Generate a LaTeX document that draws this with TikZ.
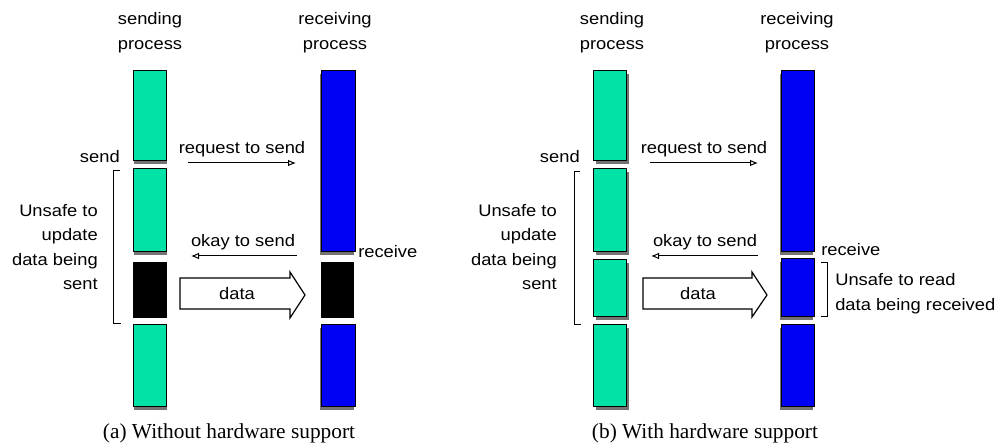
\documentclass[tikz,border=0pt]{standalone}
\usepackage{fontspec}
\setmainfont{Liberation Serif}
\setsansfont{Liberation Sans}
\usetikzlibrary{arrows.meta,fit,shadows}
\definecolor{sendgreen}{RGB}{0,226,166}
\definecolor{recvblue}{RGB}{0,0,245}
\definecolor{shadowgray}{RGB}{115,115,115}
% slightly widened sans labels
\newcommand\wsx[1]{\scalebox{1.1}[1]{#1}}
\newcommand\wrows[2]{\wsx{\begin{tabular}{@{}#1@{}}#2\end{tabular}}}

\begin{document}
\begin{tikzpicture}[x=0.75pt,y=-0.75pt,
  seg/.style={draw=black, line width=0.75pt, inner sep=0pt, outer sep=0pt},
  shdR/.style={drop shadow={shadow xshift=0.6pt, shadow yshift=-2.6pt, fill=shadowgray, opacity=1}},
  shdRR/.style={drop shadow={shadow xshift=2pt, shadow yshift=-2.6pt, fill=shadowgray, opacity=1}},
  shdL/.style={drop shadow={shadow xshift=-0.9pt, shadow yshift=-2.6pt, fill=shadowgray, opacity=1}},
  shdLL/.style={drop shadow={shadow xshift=-0.6pt, shadow yshift=-2.6pt, fill=shadowgray, opacity=1}},
  lbl/.style={font=\sffamily\fontsize{12.5}{18.3}\selectfont, inner sep=0pt},
  captext/.style={font=\fontsize{16}{19}\selectfont, inner sep=0pt},
  msg/.style={line width=0.75pt, -{Latex[open,length=6pt,width=5pt]}},
  brk/.style={line width=0.75pt},
  blockarrow/.style={draw=black, fill=white, line width=0.9pt, line join=miter}
]
\useasboundingbox (0,0) rectangle (997,448);

% ---------------- (a) without hardware support ----------------
\node[lbl] (hsA) at (150,32) {\wrows{c}{sending\\process}};
\node[lbl] (hrA) at (335,32) {\wrows{c}{receiving\\process}};

% sending process timeline
\node[seg, fill=sendgreen, shdR, fit={(133,71) (166,161)}] (a1) {};
\node[seg, fill=sendgreen, shdR, fit={(133,169) (166,252)}] (a2) {};
\node[seg, fill=black, fit={(133,263) (166,318)}] (a3) {};
\node[seg, fill=sendgreen, shdR, fit={(133,325) (166,407)}] (a4) {};

% receiving process timeline
\node[seg, fill=recvblue, shdL, fit={(321,71) (355,252)}] (b1) {};
\node[seg, fill=black, fit={(321,263) (353,318)}] (b2) {};
\node[seg, fill=recvblue, shdL, fit={(321,325) (355,407)}] (b3) {};

\node[lbl, anchor=east] (sendA) at (120,157) {\wsx{send}};
\node[lbl, anchor=west] (recvA) at (358,252) {\wsx{receive}};

% messages
\coordinate (reqAs) at (188,163);
\coordinate (reqAe) at (296,163);
\draw[msg] (reqAs) -- (reqAe);
\node[lbl] (reqAt) at (242,149) {\wsx{request to send}};

\coordinate (okAs) at (297,256);
\coordinate (okAe) at (191,256);
\draw[msg] (okAs) -- (okAe);
\node[lbl] (okAt) at (243,242) {\wsx{okay to send}};

% data transfer
\draw[blockarrow] (180,278) -- (290,278) -- (290,272) -- (305,295) -- (290,318) -- (290,309) -- (180,309) -- cycle;
\node[lbl] (dataA) at (237,294) {\wsx{data}};

% unsafe interval on the sender
\coordinate (bkAt) at (120,171);
\coordinate (bkAb) at (121,324);
\draw[brk] (bkAt) -- (113,171) -- (113,324) -- (bkAb);
\node[lbl, anchor=east] (unsA) at (98,248) {\wrows{r}{Unsafe to\\update\\data being\\sent}};

\node[captext] (capA) at (229,433) {(a) Without hardware support};

% ---------------- (b) with hardware support ----------------
\node[lbl] (hsB) at (612,32) {\wrows{c}{sending\\process}};
\node[lbl] (hrB) at (797,32) {\wrows{c}{receiving\\process}};

\node[seg, fill=sendgreen, shdRR, fit={(593,71) (626,161)}] (c1) {};
\node[seg, fill=sendgreen, shdRR, fit={(593,169) (626,252)}] (c2) {};
\node[seg, fill=sendgreen, shdRR, fit={(593,260) (626,317)}] (c3) {};
\node[seg, fill=sendgreen, shdRR, fit={(593,325) (626,407)}] (c4) {};

\node[seg, fill=recvblue, shdLL, fit={(781,71) (814,252)}] (d1) {};
\node[seg, fill=recvblue, shdLL, fit={(781,259) (814,317)}] (d2) {};
\node[seg, fill=recvblue, shdLL, fit={(781,325) (814,407)}] (d3) {};

\node[lbl, anchor=east] (sendB) at (580,157) {\wsx{send}};
\node[lbl, anchor=west] (recvB) at (821,250) {\wsx{receive}};

\coordinate (reqBs) at (650,163);
\coordinate (reqBe) at (758,163);
\draw[msg] (reqBs) -- (reqBe);
\node[lbl] (reqBt) at (704,149) {\wsx{request to send}};

\coordinate (okBs) at (758,256);
\coordinate (okBe) at (651,256);
\draw[msg] (okBs) -- (okBe);
\node[lbl] (okBt) at (705,242) {\wsx{okay to send}};

\draw[blockarrow] (643,278) -- (752,278) -- (752,272) -- (767,295) -- (752,317) -- (752,309) -- (643,309) -- cycle;
\node[lbl] (dataB) at (698,294) {\wsx{data}};

\coordinate (bkBt) at (580,172);
\coordinate (bkBb) at (581,325);
\draw[brk] (bkBt) -- (574,172) -- (574,325) -- (bkBb);
\node[lbl, anchor=east] (unsB) at (557,248) {\wrows{r}{Unsafe to\\update\\data being\\sent}};

% unsafe interval on the receiver
\coordinate (bkCt) at (821,263);
\coordinate (bkCb) at (821,317);
\draw[brk] (bkCt) -- (827,263) -- (827,317) -- (bkCb);
\node[lbl, anchor=west] (unsC) at (835,293) {\wrows{l}{Unsafe to read\\data being received}};

\node[captext] (capB) at (705,433) {(b) With hardware support};
\end{tikzpicture}
\end{document}
